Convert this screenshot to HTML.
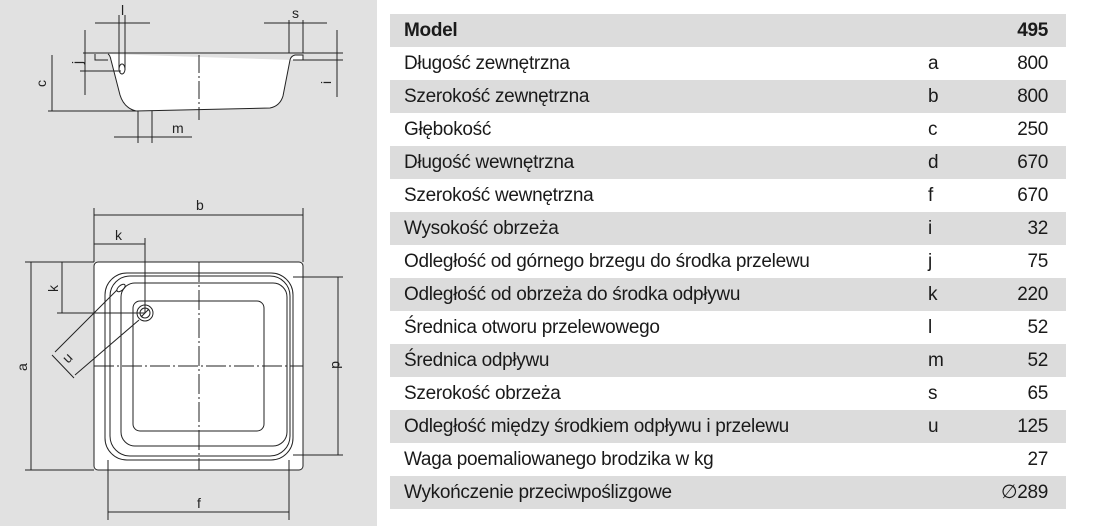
<!DOCTYPE html>
<html><head><meta charset="utf-8"><style>
body{margin:0;width:1097px;height:526px;background:#fff;position:relative;overflow:hidden;font-family:"Liberation Sans Narrow","Liberation Sans",sans-serif;color:#1a1a1a}
#left{position:absolute;left:0;top:0;width:377px;height:526px;background:#e1e1e1}
table{position:absolute;left:390px;top:14px;width:676px;border-collapse:collapse;font-size:19px;letter-spacing:-0.3px}
td{height:33px;padding:0;line-height:33px}
tr:nth-child(odd){background:#dcdcdc}
td.l{padding-left:14px}
td.c{width:60px}
td.v{width:60px;text-align:right;padding-right:18px}
tr.h td{font-weight:bold}
</style></head><body>
<div id="left">
<svg width="377" height="526" viewBox="0 0 377 526" fill="none" stroke="#222" stroke-width="1" font-family="Liberation Sans, sans-serif" font-size="14">
<line x1="83" y1="53" x2="343" y2="53"/>
<path d="M108 54 Q110 55 111 60 L120 95 Q124 108 136 111 L270 108 Q280 106 283 96 L290 60 Q291 56 295 55 L303 55 L303 60 L293 60" fill="#fff"/>
<path d="M95 54 L95 60 L108 60"/>
<line x1="303" y1="60" x2="343" y2="60"/>
<line x1="138" y1="111" x2="138" y2="143"/><line x1="152" y1="111" x2="152" y2="143"/>
<line x1="199" y1="55" x2="199" y2="120" stroke-dasharray="18 3 2 3"/>
<line x1="48" y1="111" x2="136" y2="111"/>
<line x1="52" y1="55" x2="52" y2="111"/><text x="46" y="87" fill="#222" stroke="none" transform="rotate(-90 46 87)">c</text>
<line x1="85" y1="30" x2="85" y2="95"/><line x1="80" y1="71" x2="121" y2="71"/>
<text x="82" y="64" fill="#222" stroke="none" transform="rotate(-90 82 64)">j</text>
<ellipse cx="122" cy="69" rx="3" ry="5"/>
<line x1="119" y1="15" x2="119" y2="70"/><line x1="125" y1="15" x2="125" y2="70"/>
<line x1="95" y1="23" x2="150" y2="23"/><text x="121" y="15" fill="#222" stroke="none">l</text>
<line x1="289" y1="20" x2="289" y2="53"/><line x1="303" y1="20" x2="303" y2="53"/>
<line x1="264" y1="23" x2="327" y2="23"/><text x="292" y="18" fill="#222" stroke="none">s</text>
<line x1="337" y1="30" x2="337" y2="97"/><text x="331" y="84" fill="#222" stroke="none" transform="rotate(-90 331 84)">i</text>
<line x1="114" y1="137" x2="192" y2="137"/><text x="172" y="133" fill="#222" stroke="none">m</text>
<rect x="94" y="262" width="209" height="208" rx="4" fill="#fff"/>
<rect x="105" y="273" width="188" height="187" rx="22"/>
<rect x="110" y="276" width="180" height="180" rx="20"/>
<rect x="121" y="283" width="166" height="163" rx="14"/>
<rect x="133" y="301" width="131" height="130" rx="7"/>
<line x1="199" y1="262" x2="199" y2="470" stroke-dasharray="20 3 2 3"/>
<line x1="94" y1="366" x2="303" y2="366" stroke-dasharray="20 3 2 3"/>
<circle cx="145" cy="313" r="8"/><circle cx="145" cy="313" r="5"/><line x1="141" y1="317" x2="149" y2="309"/>
<ellipse cx="121" cy="288" rx="5" ry="2.5" transform="rotate(-40 121 288)"/>
<line x1="117" y1="290" x2="55" y2="352"/><line x1="139" y1="320" x2="75" y2="375"/>
<line x1="52" y1="355" x2="74" y2="378"/><text x="68" y="364" fill="#222" stroke="none" transform="rotate(-45 68 364)">u</text>
<line x1="94" y1="208" x2="94" y2="262"/><line x1="303" y1="208" x2="303" y2="262"/>
<line x1="94" y1="215" x2="303" y2="215"/><text x="196" y="210" fill="#222" stroke="none">b</text>
<line x1="145" y1="238" x2="145" y2="313"/><line x1="94" y1="244" x2="145" y2="244"/><text x="115" y="240" fill="#222" stroke="none">k</text>
<line x1="25" y1="262" x2="94" y2="262"/><line x1="25" y1="470" x2="94" y2="470"/>
<line x1="31" y1="262" x2="31" y2="470"/><text x="27" y="371" fill="#222" stroke="none" transform="rotate(-90 27 371)">a</text>
<line x1="57" y1="313" x2="145" y2="313"/><line x1="62" y1="262" x2="62" y2="313"/><text x="58" y="292" fill="#222" stroke="none" transform="rotate(-90 58 292)">k</text>
<line x1="293" y1="277" x2="343" y2="277"/><line x1="293" y1="455" x2="343" y2="455"/>
<line x1="338" y1="277" x2="338" y2="455"/><text x="332" y="361" fill="#222" stroke="none" transform="rotate(90 332 361)">d</text>
<line x1="108" y1="460" x2="108" y2="520"/><line x1="289" y1="460" x2="289" y2="520"/>
<line x1="108" y1="512" x2="289" y2="512"/><text x="197" y="508" fill="#222" stroke="none">f</text>
</svg></div>
<table>
<tr class="h"><td class="l">Model</td><td class="c"></td><td class="v">495</td></tr>
<tr><td class="l">Długość zewnętrzna</td><td class="c">a</td><td class="v">800</td></tr>
<tr><td class="l">Szerokość zewnętrzna</td><td class="c">b</td><td class="v">800</td></tr>
<tr><td class="l">Głębokość</td><td class="c">c</td><td class="v">250</td></tr>
<tr><td class="l">Długość wewnętrzna</td><td class="c">d</td><td class="v">670</td></tr>
<tr><td class="l">Szerokość wewnętrzna</td><td class="c">f</td><td class="v">670</td></tr>
<tr><td class="l">Wysokość obrzeża</td><td class="c">i</td><td class="v">32</td></tr>
<tr><td class="l">Odległość od górnego brzegu do środka przelewu</td><td class="c">j</td><td class="v">75</td></tr>
<tr><td class="l">Odległość od obrzeża do środka odpływu</td><td class="c">k</td><td class="v">220</td></tr>
<tr><td class="l">Średnica otworu przelewowego</td><td class="c">l</td><td class="v">52</td></tr>
<tr><td class="l">Średnica odpływu</td><td class="c">m</td><td class="v">52</td></tr>
<tr><td class="l">Szerokość obrzeża</td><td class="c">s</td><td class="v">65</td></tr>
<tr><td class="l">Odległość między środkiem odpływu i przelewu</td><td class="c">u</td><td class="v">125</td></tr>
<tr><td class="l">Waga poemaliowanego brodzika w kg</td><td class="c"></td><td class="v">27</td></tr>
<tr><td class="l">Wykończenie przeciwpoślizgowe</td><td class="c"></td><td class="v">∅289</td></tr>
</table>
</body></html>
